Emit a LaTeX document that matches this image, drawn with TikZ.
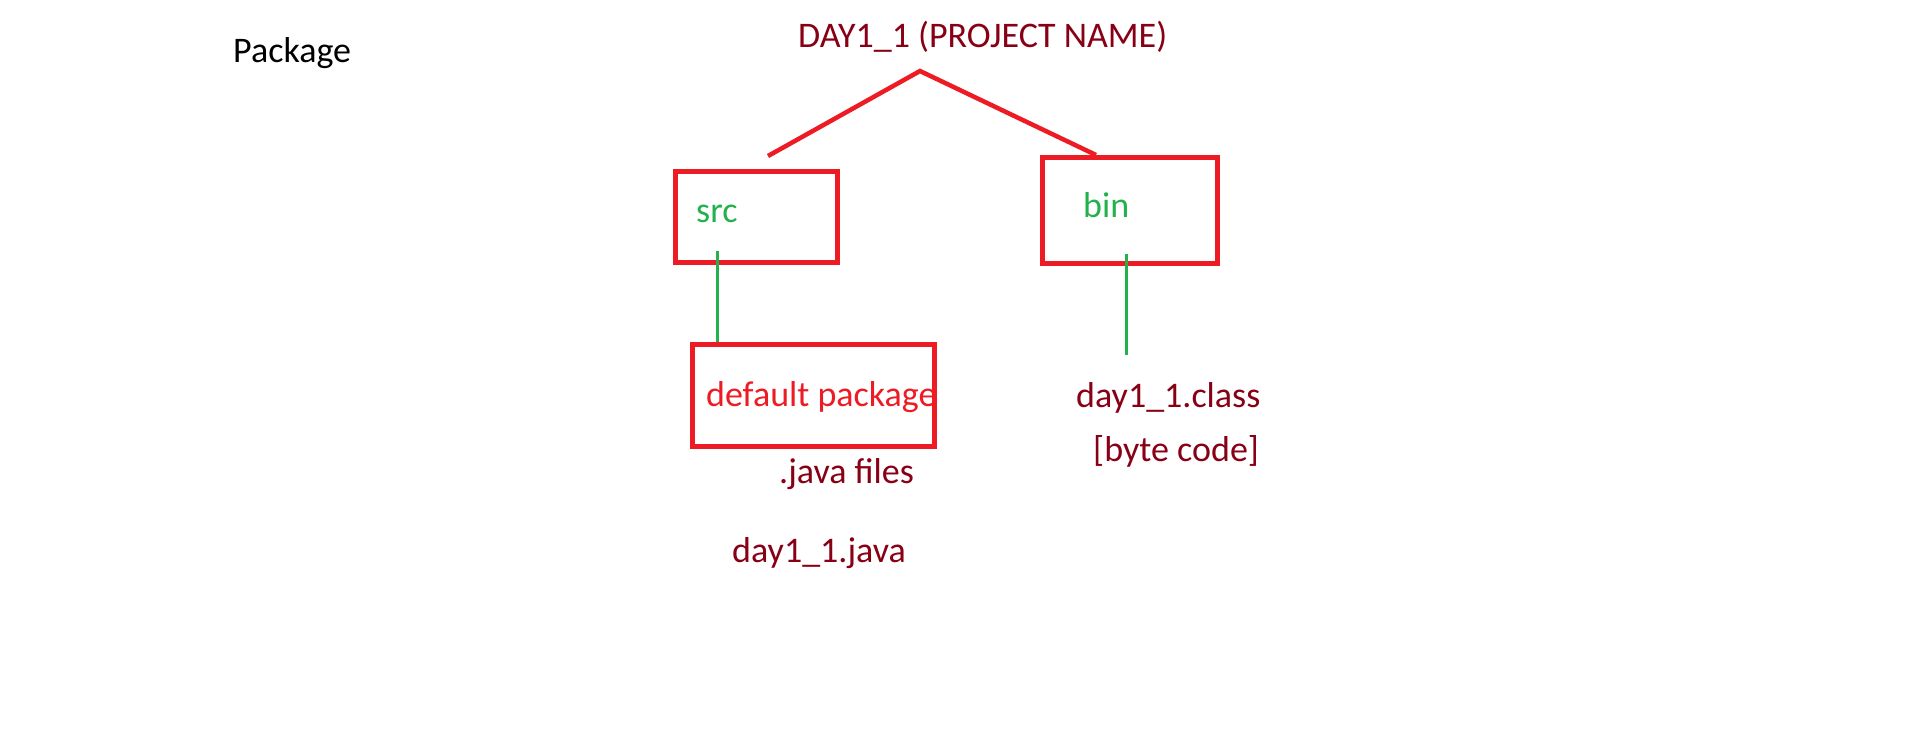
\documentclass[tikz,border=0pt]{standalone}
\usepackage{fontspec}
\setmainfont{Carlito}
\definecolor{paintred}{HTML}{ED1C24}
\definecolor{paintbrown}{HTML}{880015}
\definecolor{paintgreen}{HTML}{22B14C}
\begin{document}
\begin{tikzpicture}[x=1pt,y=-1pt,
    txt/.style={anchor=base west,inner sep=0pt,font=\fontsize{36}{43}\selectfont},
    folder/.style={draw=paintred,line width=4.5pt,inner sep=0pt,anchor=north west},
    branch/.style={draw=paintred,line width=4.5pt},
    link/.style={draw=paintgreen,line width=3pt}]
        \useasboundingbox (0,0) rectangle (1914,734);
        \node[txt] (pkg) at (233,62) {Package};
        \node[txt,text=paintbrown] (proj) at (798,47) {DAY1\_1 (PROJECT NAME)};
        % folders
        \node[folder,minimum width=162pt,minimum height=91pt] (srcbox) at (673,169) {};
        \node[folder,minimum width=175pt,minimum height=106pt] (binbox) at (1040,155) {};
        \node[folder,minimum width=242pt,minimum height=102pt] (defbox) at (690,342) {};
        \node[txt,text=paintgreen] (src) at (696,222) {src};
        \node[txt,text=paintgreen] (bin) at (1083,217) {bin};
        \node[txt,text=paintred] (def) at (706,406) {default package};
        % files
        \node[txt,text=paintbrown] (jfiles) at (779,483) {.java files};
        \node[txt,text=paintbrown] (jsrc) at (732,562) {day1\_1.java};
        \node[txt,text=paintbrown] (cls) at (1076,407) {day1\_1.class};
        \node[txt,text=paintbrown] (bcode) at (1093,461) {[byte code]};
        % tree
        \coordinate (apex) at (920,71);
        \coordinate (srctop) at (768,156);
        \coordinate (binend) at (1126,355);
        \draw[branch] (srctop) -- (apex) -- (binbox.north west -| 1096,0);
        \draw[link] (srcbox.south west -| 717,0) ++(0,-14) -- (defbox.north west -| 717,0);
        \draw[link] (binbox.south west -| 1126,0) ++(0,-12) -- (binend);
\end{tikzpicture}
\end{document}
